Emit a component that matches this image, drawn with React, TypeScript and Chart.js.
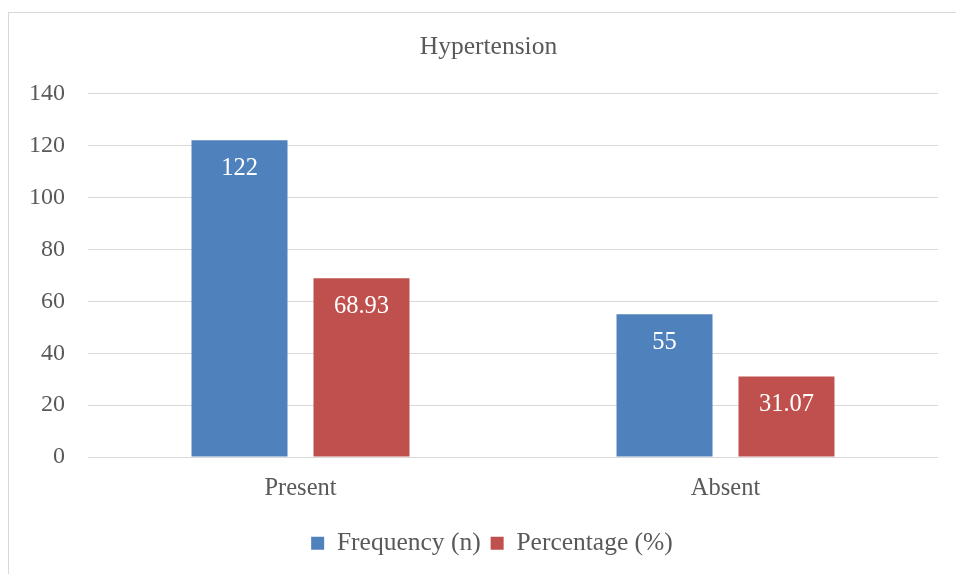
import React, { useEffect, useRef } from "react";
import { Chart, registerables } from "chart.js";

Chart.register(...registerables);

const categories = ["Present", "Absent"];
const frequencyValues = [122, 55];
const percentageValues = [68.93, 31.07];
const seriesNames = ["Frequency (n)", "Percentage (%)"];
const chartTitle = "Hypertension";
const yMin = 0;
const yMax = 140;
const yStep = 20;

const FONT = "'Liberation Serif', 'Times New Roman', serif";
const TEXT = "#595959";
const BLUE = "#4F81BD";
const RED = "#C0504D";
const GRID = "#D9D9D9";

const valueLabels = {
  id: "valueLabels",
  afterDatasetsDraw(chart: any) {
    const ctx = chart.ctx;
    ctx.save();
    ctx.font = `24.5px ${FONT}`;
    ctx.fillStyle = "#FFFFFF";
    ctx.textAlign = "center";
    ctx.textBaseline = "middle";
    chart.data.datasets.forEach((ds: any, di: number) => {
      const meta = chart.getDatasetMeta(di);
      meta.data.forEach((el: any, i: number) => {
        ctx.fillText(String(ds.data[i]), el.x, el.y + 28.5);
      });
    });
    ctx.restore();
  },
};

// nudge title and legend horizontally to match the reference's centring
const boxShift = {
  id: "boxShift",
  afterLayout(chart: any) {
    if (chart.titleBlock) {
      chart.titleBlock.left += 15;
      chart.titleBlock.right += 15;
    }
    if (chart.legend) {
      chart.legend.left += 18.5;
      chart.legend.right += 18.5;
    }
  },
};

export default function App() {
  const canvasRef = useRef<HTMLCanvasElement | null>(null);

  useEffect(() => {
    if (!canvasRef.current) return;
    const chart = new Chart(canvasRef.current, {
      type: "bar",
      data: {
        labels: categories,
        datasets: [
          {
            label: seriesNames[0],
            data: frequencyValues,
            backgroundColor: BLUE,
            categoryPercentage: 0.574,
            barPercentage: 0.787,
          },
          {
            label: seriesNames[1],
            data: percentageValues,
            backgroundColor: RED,
            categoryPercentage: 0.574,
            barPercentage: 0.787,
          },
        ],
      },
      options: {
        animation: false,
        responsive: true,
        maintainAspectRatio: false,
        layout: { padding: { left: 0, right: 18, top: 0, bottom: 8 } },
        font: { family: FONT, size: 24 },
        plugins: {
          title: {
            display: true,
            text: chartTitle,
            color: TEXT,
            font: { family: FONT, size: 25.5, weight: "normal", lineHeight: 1.2 },
            padding: { top: 19, bottom: 31 },
          },
          legend: {
            display: true,
            position: "bottom",
            labels: {
              color: TEXT,
              font: { family: FONT, size: 25.5 },
              boxWidth: 13,
              boxHeight: 13,
              padding: 10,
            },
          },
          tooltip: { enabled: false },
        },
        scales: {
          x: {
            grid: { display: false, drawTicks: false },
            border: { display: false },
            ticks: {
              color: TEXT,
              font: { family: FONT, size: 24.5, lineHeight: 1.2 },
              padding: 17,
            },
          },
          y: {
            min: yMin,
            max: yMax,
            grid: { color: GRID, lineWidth: 1, drawTicks: false },
            border: { display: false },
            ticks: {
              stepSize: yStep,
              color: TEXT,
              font: { family: FONT, size: 24 },
              padding: 23,
            },
            afterFit(scale: any) {
              scale.width = 79;
            },
          },
        },
      },
      plugins: [valueLabels, boxShift],
    } as any);
    return () => chart.destroy();
  }, []);

  return (
    <div
      style={{
        position: "fixed",
        left: 8,
        top: 12,
        width: 948,
        height: 562,
        boxSizing: "border-box",
        borderLeft: `1px solid ${GRID}`,
        borderTop: `1px solid ${GRID}`,
        background: "#FFFFFF",
      }}
    >
      <div style={{ position: "relative", width: 947, height: 561 }}>
        <canvas ref={canvasRef} style={{ display: "block" }} />
      </div>
    </div>
  );
}
